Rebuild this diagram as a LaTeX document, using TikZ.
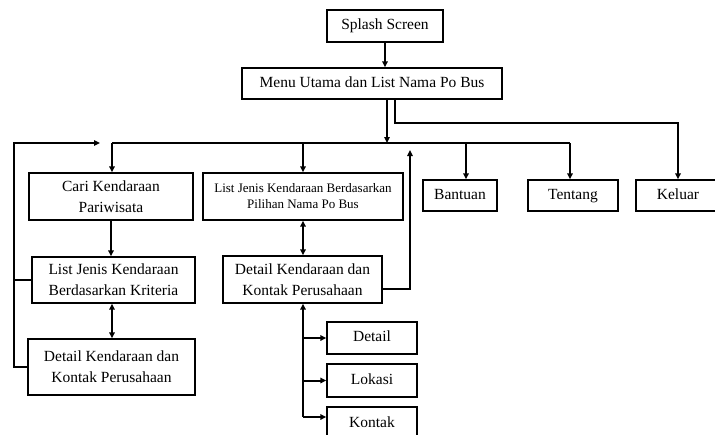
\documentclass[tikz,border=0pt]{standalone}
\usepackage{fontspec}
\setmainfont{Liberation Serif}
\usetikzlibrary{arrows.meta}
\begin{document}
\begin{tikzpicture}[x=1pt,y=-1pt,
  box/.style={draw, line width=1.4pt, inner sep=2pt, align=center, font=\fontsize{15.5}{21}\selectfont},
  one/.style={text height=10.5pt, text depth=3.5pt},
  smallbox/.style={box, font=\fontsize{13}{16}\selectfont},
  conn/.style={line width=2pt},
  arr/.style={conn, -{Triangle[length=6pt,width=5.5pt]}},
  darr/.style={conn, {Triangle[length=6pt,width=5.5pt]}-{Triangle[length=6pt,width=5.5pt]}}]
\useasboundingbox (0,0) rectangle (715,434);
\node[box, one, minimum width=116pt, minimum height=32pt] (splash) at (385,26) {Splash Screen};
\node[box, one, minimum width=260pt, minimum height=31pt] (menu) at (372,83.5) {Menu Utama dan List Nama Po Bus};
\node[box, minimum width=164pt, minimum height=47pt] (cari) at (111,196.5) {Cari Kendaraan\\Pariwisata};
\node[smallbox, minimum width=200pt, minimum height=47pt] (listpo) at (303,196.5) {List Jenis Kendaraan Berdasarkan\\Pilihan Nama Po Bus};
\node[box, one, minimum width=74pt, minimum height=31pt] (bantuan) at (460,195.5) {Bantuan};
\node[box, one, minimum width=90pt, minimum height=31pt] (tentang) at (573,195.5) {Tentang};
\node[box, one, minimum width=84pt, minimum height=31pt] (keluar) at (678,195.5) {Keluar};
\node[box, minimum width=163pt, minimum height=46pt] (listkrit) at (113.5,280) {List Jenis Kendaraan\\Berdasarkan Kriteria};
\node[box, minimum width=167pt, minimum height=56pt] (detaill) at (111.5,367) {Detail Kendaraan dan\\Kontak Perusahaan};
\node[box, minimum width=159pt, minimum height=47pt] (detailm) at (302.5,279.5) {Detail Kendaraan dan\\Kontak Perusahaan};
\node[box, one, minimum width=90pt, minimum height=32pt] (detail) at (372,338) {Detail};
\node[box, one, minimum width=90pt, minimum height=33pt] (lokasi) at (372,380.5) {Lokasi};
\node[box, one, minimum width=90pt, minimum height=33pt] (kontak) at (372,423.5) {Kontak};
% coordinates
\coordinate (busL) at (112,143);
\coordinate (busR) at (570,143);
\coordinate (loopTop) at (14,143);
\coordinate (loopEnd) at (100,143);
\coordinate (upTop) at (410,150);
\coordinate (colBot) at (303,417);
% connectors
\draw[arr] (splash.south) -- (splash.south |- menu.north);
\draw[arr] (387,0 |- menu.south) -- (387,143);
\draw[conn] (busL) -- (busR);
\draw[arr] (busL) -- (busL |- cari.north);
\draw[arr] (303,143) -- (303,0 |- listpo.north);
\draw[arr] (466,143) -- (466,0 |- bantuan.north);
\draw[arr] (busR) -- (busR |- tentang.north);
\draw[arr] (395,0 |- menu.south) -- (395,123) -- (678,123) -- (678,0 |- keluar.north);
\draw[arr] (detaill.west) -- (loopTop |- detaill.west) -- (loopTop) -- (loopEnd);
\draw[conn] (loopTop |- listkrit.west) -- (listkrit.west);
\draw[arr] (cari.south) -- (cari.south |- listkrit.north);
\draw[darr] (112,0 |- listkrit.south) -- (112,0 |- detaill.north);
\draw[darr] (303,0 |- listpo.south) -- (303,0 |- detailm.north);
\draw[arr] (detailm.east |- 0,289) -- (410,289) -- (upTop);
\draw[conn, {Triangle[length=6pt,width=5.5pt]}-] (303,0 |- detailm.south) -- (colBot);
\draw[arr] (303,0 |- detail.west) -- (detail.west);
\draw[arr] (303,0 |- lokasi.west) -- (lokasi.west);
\draw[arr] (colBot) -- (colBot -| kontak.west);
\end{tikzpicture}
\end{document}
